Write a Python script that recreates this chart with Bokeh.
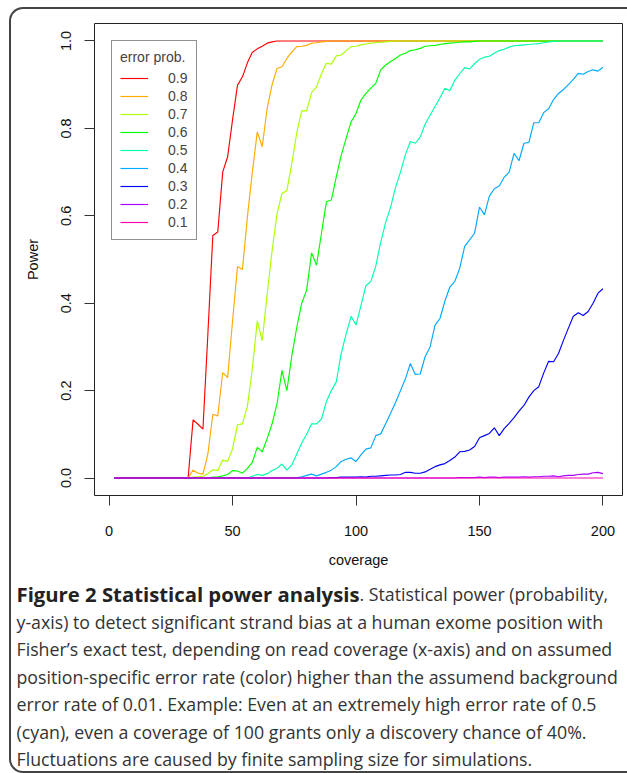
from bokeh.plotting import figure
from bokeh.layouts import column
from bokeh.models import (Range1d, FixedTicker, PrintfTickFormatter, Legend,
                          LegendItem, Plot, Div)
from bokeh.core.properties import value
from bokeh.embed import file_html
from bokeh.resources import INLINE

# ---------------- data ----------------
coverage = list(range(2, 202, 2))
error_probs = ["0.9", "0.8", "0.7", "0.6", "0.5", "0.4", "0.3", "0.2", "0.1"]
colors = ["#FF0000", "#FFAA00", "#AAFF00", "#00FF00", "#00FFAA",
          "#00AAFF", "#0000FF", "#AA00FF", "#FF00AA"]
x_ticks = [0, 50, 100, 150, 200]
y_ticks = [0.0, 0.2, 0.4, 0.6, 0.8, 1.0]

power_09 = [0, 0, 0, 0, 0, 0, 0, 0, 0, 0, 0, 0, 0, 0, 0, 0,
            0.133, 0.123, 0.112, 0.33, 0.555, 0.563, 0.70, 0.735, 0.82, 0.899,
            0.918, 0.95, 0.974, 0.982, 0.988, 0.995, 0.998,
            1, 1, 1, 1, 1, 1, 1, 1, 1, 1, 1, 1, 1, 1, 1, 1, 1, 1, 1, 1, 1, 1,
            1, 1, 1, 1, 1, 1, 1, 1, 1, 1, 1, 1, 1, 1, 1, 1, 1, 1, 1, 1, 1, 1,
            1, 1, 1, 1, 1, 1, 1, 1, 1, 1, 1, 1, 1, 1, 1, 1, 1, 1, 1, 1, 1, 1,
            1, 1, 1]
power_08 = [0, 0, 0, 0, 0, 0, 0, 0, 0, 0, 0, 0, 0, 0, 0, 0,
            0.018, 0.011, 0.009, 0.055, 0.146, 0.142, 0.241, 0.23, 0.36, 0.484,
            0.477, 0.597, 0.70, 0.792, 0.758, 0.846, 0.90, 0.937, 0.941, 0.96,
            0.975, 0.987, 0.988, 0.99, 0.995, 0.996, 0.998, 0.999,
            1, 1, 1, 1, 1, 1, 1, 1, 1, 1, 1, 1, 1, 1, 1, 1, 1, 1, 1, 1, 1, 1,
            1, 1, 1, 1, 1, 1, 1, 1, 1, 1, 1, 1, 1, 1, 1, 1, 1, 1, 1, 1, 1, 1,
            1, 1, 1, 1, 1, 1, 1, 1, 1, 1, 1, 1]
power_07 = [0, 0, 0, 0, 0, 0, 0, 0, 0, 0, 0, 0, 0, 0, 0, 0,
            0.002, 0.003, 0.004, 0.01, 0.019, 0.017, 0.041, 0.038, 0.067, 0.122,
            0.124, 0.164, 0.25, 0.36, 0.314, 0.42, 0.52, 0.605, 0.651, 0.658,
            0.72, 0.79, 0.84, 0.84, 0.882, 0.895, 0.925, 0.949, 0.947, 0.966,
            0.968, 0.978, 0.987, 0.988, 0.991, 0.993, 0.995, 0.996, 0.997,
            0.998, 0.999,
            1, 1, 1, 1, 1, 1, 1, 1, 1, 1, 1, 1, 1, 1, 1, 1, 1, 1, 1, 1, 1, 1,
            1, 1, 1, 1, 1, 1, 1, 1, 1, 1, 1, 1, 1, 1, 1, 1, 1, 1, 1, 1, 1, 1,
            1, 1, 1]
power_06 = [0, 0, 0, 0, 0, 0, 0, 0, 0, 0, 0, 0, 0, 0, 0, 0, 0, 0, 0, 0,
            0.002, 0.003, 0.005, 0.008, 0.017, 0.016, 0.011, 0.022, 0.036, 0.07,
            0.06, 0.09, 0.124, 0.17, 0.246, 0.2, 0.28, 0.345, 0.40, 0.43,
            0.515, 0.487, 0.56, 0.632, 0.636, 0.689, 0.739, 0.777, 0.815, 0.834,
            0.865, 0.88, 0.892, 0.903, 0.934, 0.945, 0.953, 0.96, 0.968, 0.972,
            0.978, 0.98, 0.983, 0.988, 0.989, 0.99, 0.992, 0.994, 0.995, 0.996,
            0.997, 0.998, 0.998, 0.999,
            1, 1, 1, 1, 1, 1, 1, 1, 1, 1, 1, 1, 1, 1, 1, 1, 1, 1, 1, 1, 1, 1,
            1, 1, 1, 1]
power_05 = [0, 0, 0, 0, 0, 0, 0, 0, 0, 0, 0, 0, 0, 0, 0, 0, 0, 0, 0, 0,
            0, 0, 0, 0, 0, 0, 0, 0,
            0.004, 0.008, 0.006, 0.01, 0.017, 0.022, 0.032, 0.018, 0.03, 0.055,
            0.08, 0.1, 0.124, 0.124, 0.135, 0.175, 0.2, 0.22, 0.285, 0.33,
            0.37, 0.35, 0.395, 0.44, 0.45, 0.485, 0.54, 0.585, 0.62, 0.665,
            0.70, 0.74, 0.77, 0.766, 0.78, 0.81, 0.83, 0.85, 0.87, 0.892,
            0.886, 0.91, 0.925, 0.939, 0.936, 0.948, 0.958, 0.963, 0.965, 0.972,
            0.978, 0.981, 0.986, 0.989, 0.99, 0.991, 0.992, 0.993, 0.994, 0.996,
            0.998, 0.999,
            1, 1, 1, 1, 1, 1, 1, 1, 1, 1]
power_04 = [0, 0, 0, 0, 0, 0, 0, 0, 0, 0, 0, 0, 0, 0, 0, 0, 0, 0, 0, 0,
            0, 0, 0, 0, 0, 0, 0, 0, 0, 0, 0, 0, 0, 0, 0, 0, 0,
            0.001, 0.003, 0.006, 0.009, 0.005, 0.009, 0.013, 0.018, 0.026, 0.038,
            0.043, 0.046, 0.038, 0.053, 0.066, 0.069, 0.097, 0.101, 0.124, 0.148,
            0.173, 0.2, 0.227, 0.262, 0.237, 0.238, 0.278, 0.3, 0.35, 0.365,
            0.405, 0.437, 0.45, 0.48, 0.53, 0.545, 0.56, 0.62, 0.602, 0.645,
            0.662, 0.668, 0.688, 0.70, 0.743, 0.726, 0.766, 0.768, 0.813, 0.813,
            0.836, 0.845, 0.866, 0.88, 0.889, 0.90, 0.912, 0.926, 0.924, 0.93,
            0.934, 0.931, 0.94]
power_03 = [0, 0, 0, 0, 0, 0, 0, 0, 0, 0, 0, 0, 0, 0, 0, 0, 0, 0, 0, 0,
            0, 0, 0, 0, 0, 0, 0, 0, 0, 0, 0, 0, 0, 0, 0, 0, 0, 0, 0, 0,
            0, 0, 0, 0,
            0.001, 0.001, 0.002, 0.002, 0.002, 0.002, 0.003, 0.002, 0.004, 0.004,
            0.005, 0.006, 0.007, 0.007, 0.008, 0.013, 0.013, 0.011, 0.011, 0.014,
            0.02, 0.026, 0.03, 0.033, 0.04, 0.048, 0.06, 0.061, 0.064, 0.072,
            0.092, 0.097, 0.102, 0.115, 0.097, 0.113, 0.125, 0.138, 0.153, 0.166,
            0.185, 0.2, 0.209, 0.24, 0.267, 0.266, 0.285, 0.315, 0.343, 0.37,
            0.378, 0.372, 0.381, 0.40, 0.423, 0.433]
power_02 = [0, 0, 0, 0, 0, 0, 0, 0, 0, 0, 0, 0, 0, 0, 0, 0, 0, 0, 0, 0,
            0, 0, 0, 0, 0, 0, 0, 0, 0, 0, 0, 0, 0, 0, 0, 0, 0, 0, 0, 0,
            0, 0, 0, 0, 0, 0, 0, 0, 0, 0, 0, 0, 0, 0, 0, 0, 0, 0, 0, 0,
            0, 0, 0, 0, 0, 0, 0, 0, 0, 0,
            0.001, 0.001, 0.001, 0.001, 0.002, 0.001, 0.002, 0.002, 0.001, 0.002,
            0.002, 0.002, 0.002, 0.003, 0.002, 0.003, 0.003, 0.004, 0.004, 0.005,
            0.003, 0.005, 0.006, 0.006, 0.008, 0.009, 0.009, 0.012, 0.013, 0.01]
power_01 = [0, 0, 0, 0, 0, 0, 0, 0, 0, 0, 0, 0, 0, 0, 0, 0, 0, 0, 0, 0,
            0, 0, 0, 0, 0, 0, 0, 0, 0, 0, 0, 0, 0, 0, 0, 0, 0, 0, 0, 0,
            0, 0, 0, 0, 0, 0, 0, 0, 0, 0, 0, 0, 0, 0, 0, 0, 0, 0, 0, 0,
            0, 0, 0, 0, 0, 0, 0, 0, 0, 0, 0, 0, 0, 0, 0, 0, 0, 0, 0, 0,
            0, 0, 0, 0, 0, 0, 0, 0, 0, 0, 0, 0, 0, 0, 0, 0, 0, 0, 0, 0]

series = [power_09, power_08, power_07, power_06, power_05,
          power_04, power_03, power_02, power_01]

caption_bold = "Figure 2 Statistical power analysis"
caption_lines = [
    ". Statistical power (probability,",
    "y-axis) to detect significant strand bias at a human exome position with",
    "Fisher\u2019s exact test, depending on read coverage (x-axis) and on assumed",
    "position-specific error rate (color) higher than the assumend background",
    "error rate of 0.01. Example: Even at an extremely high error rate of 0.5",
    "(cyan), even a coverage of 100 grants only a discovery chance of 40%.",
    "Fluctuations are caused by finite sampling size for simulations.",
]

HAS_FRAME_ALIGN = "frame_align" in Plot.properties()

# ---------------- chart figure ----------------
FONT = "Liberation Sans"
CONTENT_W = 616
p = figure(width=CONTENT_W, height=569, output_backend="svg",
           toolbar_location=None,
           x_range=Range1d(-5.92, 207.92), y_range=Range1d(-0.04, 1.04),
           min_border_left=83, min_border_right=5, min_border_top=14,
           min_border_bottom=83)
if HAS_FRAME_ALIGN:
    p.frame_align = False
p.title.visible = False
p.xgrid.visible = False
p.ygrid.visible = False
p.outline_line_color = "#222222"
p.outline_line_width = 1
p.background_fill_color = "white"
p.border_fill_alpha = 0

renderers = []
for vals, col in zip(series, colors):
    r = p.line(coverage, vals, line_color=col, line_width=1.15)
    renderers.append(r)

for ax in (p.xaxis[0], p.yaxis[0]):
    ax.axis_line_color = None
    ax.major_tick_line_color = "#333333"
    ax.major_tick_in = 0
    ax.major_tick_out = 10
    ax.minor_tick_line_color = None
    ax.major_label_text_font = FONT
    ax.major_label_text_font_size = "14.5px"
    ax.major_label_text_color = "#111111"
    ax.axis_label_text_font = FONT
    ax.axis_label_text_font_size = "14.5px"
    ax.axis_label_text_font_style = "normal"
    ax.axis_label_text_color = "#111111"

p.xaxis.ticker = FixedTicker(ticks=x_ticks)
p.yaxis.ticker = FixedTicker(ticks=y_ticks)
p.yaxis.formatter = PrintfTickFormatter(format="%.1f")
p.xaxis.axis_label = "coverage"
p.yaxis.axis_label = "Power"
p.yaxis.major_label_orientation = "vertical"
p.xaxis.major_label_standoff = 20
p.yaxis.major_label_standoff = 13
p.xaxis.axis_label_standoff = 13
p.yaxis.axis_label_standoff = 18

legend = Legend(items=[LegendItem(label=lab, renderers=[r])
                       for lab, r in zip(error_probs, renderers)],
                location="top_left")
legend.title = "error prob."
legend.title_text_font = FONT
legend.title_text_font_size = "14px"
legend.title_text_font_style = "normal"
legend.title_standoff = 4
legend.label_text_font = FONT
legend.label_text_font_size = "14px"
legend.label_height = 18
legend.glyph_height = 18
legend.glyph_width = 28
legend.label_standoff = 20
legend.spacing = 0
legend.padding = 8
legend.margin = 17
legend.border_line_color = "#222222"
legend.border_line_width = 1
legend.background_fill_alpha = 1
p.add_layout(legend)

# ---------------- caption ----------------
CAP_H = 193
if HAS_FRAME_ALIGN:
    cap = figure(width=CONTENT_W, height=CAP_H, output_backend="svg",
                 toolbar_location=None, x_axis_type=None, y_axis_type=None,
                 x_range=Range1d(0, CONTENT_W), y_range=Range1d(CAP_H, 0),
                 min_border=0)
    cap.frame_align = False
    cap.title.visible = False
    cap.xgrid.visible = False
    cap.ygrid.visible = False
    cap.outline_line_color = None
    cap.background_fill_alpha = 0
    cap.border_fill_alpha = 0

    CAP_FONT = value("Open Sans")
    LINE_STEP = 27.5
    FIRST_Y = 15.5
    LEFT_X = 5
    BOLD_END_X = 348
    cap.text(x=[LEFT_X], y=[FIRST_Y], text=[caption_bold], text_font=CAP_FONT,
             text_font_size="20.3px", text_font_style="bold",
             text_color="#222222", text_baseline="middle", text_align="left")
    cap.text(x=[BOLD_END_X], y=[FIRST_Y], text=[caption_lines[0]],
             text_font=CAP_FONT, text_font_size="17.75px",
             text_color="#333333", text_baseline="middle", text_align="left")
    cap.text(x=[LEFT_X] * (len(caption_lines) - 1),
             y=[FIRST_Y + LINE_STEP * i for i in range(1, len(caption_lines))],
             text=caption_lines[1:], text_font=CAP_FONT,
             text_font_size="17.75px", text_color="#333333",
             text_baseline="middle", text_align="left")
else:
    html = "<b>" + caption_bold + "</b>" + "<br>".join(caption_lines)
    cap = Div(text=html, width=CONTENT_W, height=CAP_H,
              styles={"font-family": "Open Sans", "font-size": "17.75px",
                      "line-height": "27.5px", "color": "#333333",
                      "padding-left": "5px", "white-space": "nowrap"})

layout = column(p, cap, margin=(7, 0, 0, 9),
                styles={"border": "2px solid #444444",
                        "border-right": "none",
                        "border-radius": "14px 0 0 14px"})

open("out.html", "w").write(file_html(layout, INLINE))
